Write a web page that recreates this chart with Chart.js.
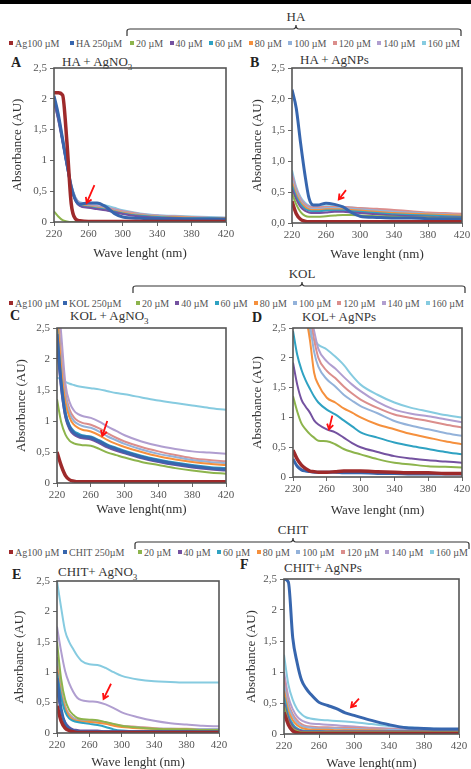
<!DOCTYPE html>
<html>
<head>
<meta charset="utf-8">
<script src="https://cdn.jsdelivr.net/npm/chart.js@4.4.1/dist/chart.umd.min.js"></script>
<style>
  body { margin: 0; width: 471px; height: 769px; background: #fff; position: relative; overflow: hidden;
         font-family: 'Liberation Serif', 'DejaVu Serif', serif; color: #222; }
  #topbar { position: absolute; left: 0; top: 0; width: 471px; height: 4px; background: #000; }
  canvas { position: absolute; }
  .lbl { position: absolute; font-size: 13px; line-height: 14px; white-space: nowrap; color: #333; }
  .letter { position: absolute; font-size: 14px; font-weight: bold; line-height: 14px; }
  .leg { position: absolute; font-size: 10px; line-height: 12px; white-space: nowrap; color: #555; }
  .legflex { position: absolute; display: flex; justify-content: space-between; font-size: 10px; line-height: 12px; color: #555; }
  .mk { display: inline-block; width: 4px; height: 4px; margin-right: 2px; vertical-align: 2px; }
  sub { font-size: 9px; line-height: 0; }
</style>
</head>
<body>
<div id="topbar"></div>
<svg id="braces" width="471" height="769" style="position:absolute;left:0;top:0"></svg>

<div class="letter" style="left:11px;top:56px">A</div>
<div class="lbl" style="left:62px;top:55px">HA + AgNO<sub>3</sub></div>
<div class="letter" style="left:250px;top:56px">B</div>
<div class="lbl" style="left:300px;top:53px">HA + AgNPs</div>
<div class="letter" style="left:10px;top:309px">C</div>
<div class="lbl" style="left:70px;top:309px">KOL + AgNO<sub>3</sub></div>
<div class="letter" style="left:252px;top:311px">D</div>
<div class="lbl" style="left:302px;top:310px">KOL+ AgNPs</div>
<div class="letter" style="left:12px;top:568px">E</div>
<div class="lbl" style="left:58px;top:565px">CHIT+ AgNO<sub>3</sub></div>
<div class="letter" style="left:240px;top:558px">F</div>
<div class="lbl" style="left:284px;top:561px">CHIT+ AgNPs</div>

<canvas id="chartA"></canvas>
<canvas id="chartB"></canvas>
<canvas id="chartC"></canvas>
<canvas id="chartD"></canvas>
<canvas id="chartE"></canvas>
<canvas id="chartF"></canvas>

<script>
// wavelength axis shared by every spectrum (nm)
const WAVELENGTHS = [220, 225, 230, 235, 240, 245, 250, 260, 270, 280, 290, 300, 320, 340, 360, 380, 400, 420];
const CONCENTRATIONS = ['20 µM', '40 µM', '60 µM', '80 µM', '100 µM', '120 µM', '140 µM', '160 µM'];
const Y_TICKS = [0, 0.5, 1, 1.5, 2, 2.5];
const X_TICKS = [220, 260, 300, 340, 380, 420];

// rows: Ag100, compound 250µM, 20, 40, 60, 80, 100, 120, 140, 160 µM
const HA_AGNO3 = [
  [2.1, 2.1, 2.06, 1.3, 0.3, 0.05, 0.02, 0.01, 0.01, 0.01, 0.01, 0.01, 0.01, 0.01, 0.01, 0.01, 0.01, 0.01],
  [2.05, 1.75, 1.35, 0.95, 0.58, 0.36, 0.29, 0.31, 0.31, 0.25, 0.14, 0.08, 0.06, 0.05, 0.05, 0.05, 0.05, 0.05],
  [0.17, 0.09, 0.03, 0.01, 0, 0, 0, 0, 0, 0, 0, 0, 0, 0, 0, 0, 0, 0],
  [1.95, 1.65, 1.28, 0.9, 0.55, 0.34, 0.26, 0.23, 0.21, 0.19, 0.16, 0.13, 0.09, 0.07, 0.06, 0.05, 0.05, 0.04],
  [1.96, 1.66, 1.3, 0.91, 0.56, 0.35, 0.27, 0.24, 0.22, 0.2, 0.17, 0.14, 0.1, 0.08, 0.07, 0.06, 0.06, 0.05],
  [1.98, 1.68, 1.32, 0.93, 0.57, 0.36, 0.28, 0.25, 0.23, 0.21, 0.18, 0.15, 0.11, 0.09, 0.08, 0.07, 0.06, 0.06],
  [2.0, 1.7, 1.33, 0.94, 0.58, 0.37, 0.29, 0.26, 0.24, 0.22, 0.19, 0.16, 0.12, 0.1, 0.08, 0.07, 0.07, 0.06],
  [2.0, 1.71, 1.34, 0.95, 0.59, 0.38, 0.3, 0.27, 0.25, 0.23, 0.2, 0.17, 0.13, 0.1, 0.09, 0.08, 0.07, 0.06],
  [2.02, 1.72, 1.35, 0.96, 0.6, 0.39, 0.31, 0.28, 0.26, 0.24, 0.21, 0.18, 0.13, 0.11, 0.09, 0.08, 0.07, 0.07],
  [2.04, 1.74, 1.37, 0.97, 0.61, 0.4, 0.32, 0.3, 0.29, 0.27, 0.23, 0.19, 0.14, 0.11, 0.1, 0.09, 0.08, 0.07]
];

const HA_AGNPS = [
  [0.35, 0.15, 0.06, 0.03, 0.02, 0.02, 0.02, 0.02, 0.02, 0.02, 0.02, 0.02, 0.02, 0.02, 0.02, 0.02, 0.02, 0.02],
  [2.15, 1.85, 1.3, 0.8, 0.4, 0.29, 0.29, 0.32, 0.3, 0.26, 0.17, 0.11, 0.09, 0.08, 0.08, 0.07, 0.07, 0.07],
  [0.48, 0.3, 0.18, 0.12, 0.1, 0.1, 0.1, 0.11, 0.12, 0.13, 0.13, 0.12, 0.11, 0.1, 0.09, 0.09, 0.08, 0.08],
  [0.55, 0.38, 0.26, 0.2, 0.17, 0.16, 0.16, 0.17, 0.18, 0.18, 0.17, 0.16, 0.14, 0.12, 0.11, 0.1, 0.09, 0.09],
  [0.6, 0.42, 0.3, 0.23, 0.2, 0.19, 0.19, 0.2, 0.2, 0.2, 0.19, 0.18, 0.16, 0.14, 0.13, 0.12, 0.11, 0.1],
  [0.65, 0.46, 0.33, 0.26, 0.22, 0.21, 0.21, 0.22, 0.22, 0.22, 0.21, 0.2, 0.18, 0.16, 0.15, 0.14, 0.13, 0.12],
  [0.7, 0.5, 0.36, 0.28, 0.24, 0.23, 0.23, 0.24, 0.24, 0.24, 0.23, 0.22, 0.2, 0.18, 0.17, 0.15, 0.14, 0.13],
  [0.75, 0.53, 0.38, 0.3, 0.26, 0.25, 0.25, 0.26, 0.26, 0.26, 0.25, 0.24, 0.23, 0.21, 0.19, 0.17, 0.16, 0.15],
  [0.8, 0.55, 0.4, 0.31, 0.27, 0.26, 0.26, 0.26, 0.26, 0.25, 0.24, 0.23, 0.21, 0.19, 0.17, 0.16, 0.15, 0.14],
  [0.85, 0.58, 0.42, 0.33, 0.28, 0.27, 0.27, 0.27, 0.27, 0.26, 0.25, 0.24, 0.21, 0.18, 0.16, 0.15, 0.14, 0.13]
];

const KOL_AGNO3 = [
  [0.5, 0.28, 0.12, 0.05, 0.03, 0.02, 0.02, 0.02, 0.02, 0.02, 0.02, 0.02, 0.02, 0.02, 0.02, 0.02, 0.02, 0.02],
  [2.4, 1.6, 1.1, 0.9, 0.81, 0.77, 0.75, 0.73, 0.67, 0.6, 0.55, 0.5, 0.42, 0.36, 0.31, 0.27, 0.24, 0.22],
  [1.35, 0.98, 0.78, 0.68, 0.64, 0.62, 0.61, 0.6, 0.55, 0.49, 0.45, 0.41, 0.34, 0.29, 0.24, 0.2, 0.17, 0.15],
  [2.2, 1.5, 1.05, 0.86, 0.78, 0.74, 0.72, 0.7, 0.64, 0.57, 0.52, 0.48, 0.4, 0.34, 0.29, 0.25, 0.22, 0.2],
  [2.5, 1.65, 1.15, 0.93, 0.84, 0.8, 0.77, 0.75, 0.69, 0.62, 0.57, 0.52, 0.44, 0.38, 0.33, 0.29, 0.26, 0.24],
  [2.8, 1.85, 1.3, 1.05, 0.94, 0.89, 0.86, 0.83, 0.77, 0.69, 0.63, 0.58, 0.5, 0.43, 0.38, 0.34, 0.31, 0.29],
  [2.9, 1.95, 1.38, 1.12, 1.0, 0.95, 0.92, 0.89, 0.83, 0.75, 0.69, 0.63, 0.54, 0.47, 0.42, 0.37, 0.34, 0.32],
  [3.0, 2.05, 1.45, 1.18, 1.06, 1.0, 0.97, 0.94, 0.88, 0.8, 0.73, 0.67, 0.58, 0.51, 0.45, 0.4, 0.37, 0.35],
  [3.2, 2.4, 1.6, 1.3, 1.17, 1.11, 1.08, 1.05, 0.99, 0.91, 0.84, 0.77, 0.67, 0.6, 0.55, 0.51, 0.49, 0.47],
  [1.7, 1.67, 1.63, 1.6, 1.58, 1.56, 1.55, 1.53, 1.51, 1.48, 1.45, 1.43, 1.38, 1.33, 1.29, 1.25, 1.21, 1.18]
];

const KOL_AGNPS = [
  [0.45, 0.3, 0.2, 0.14, 0.1, 0.09, 0.08, 0.08, 0.09, 0.1, 0.1, 0.1, 0.09, 0.08, 0.07, 0.07, 0.06, 0.06],
  [0.3, 0.18, 0.12, 0.1, 0.09, 0.08, 0.08, 0.08, 0.08, 0.07, 0.07, 0.07, 0.06, 0.06, 0.05, 0.05, 0.05, 0.05],
  [1.36, 1.1, 0.9, 0.8, 0.72, 0.66, 0.61, 0.6, 0.55, 0.47, 0.42, 0.38, 0.3, 0.24, 0.21, 0.18, 0.17, 0.16],
  [1.92, 1.55, 1.3, 1.18, 1.08, 0.95, 0.88, 0.8, 0.75, 0.66, 0.57, 0.5, 0.42, 0.35, 0.31, 0.28, 0.26, 0.24],
  [2.45, 2.05, 1.8, 1.62, 1.48, 1.35, 1.25, 1.13, 1.05, 0.95, 0.85, 0.75, 0.66, 0.58, 0.52, 0.47, 0.42, 0.38],
  [3.5, 3.2, 2.9, 2.7, 2.3, 1.75, 1.55, 1.33, 1.25, 1.15, 1.08, 1.0, 0.88, 0.8, 0.72, 0.66, 0.6, 0.55],
  [3.5, 3.3, 3.0, 2.8, 2.55, 2.1, 1.85, 1.64, 1.52, 1.38, 1.28, 1.19, 1.07, 0.94, 0.86, 0.8, 0.74, 0.69],
  [3.6, 3.4, 3.1, 2.9, 2.7, 2.3, 2.0, 1.78, 1.66, 1.52, 1.4, 1.3, 1.16, 1.05, 0.99, 0.94, 0.88, 0.83],
  [3.7, 3.5, 3.2, 3.0, 2.8, 2.45, 2.15, 1.94, 1.82, 1.68, 1.55, 1.44, 1.26, 1.13, 1.06, 1.02, 0.97, 0.92],
  [3.8, 3.6, 3.3, 2.9, 2.4, 2.3, 2.22, 2.14, 2.02, 1.88, 1.7, 1.55, 1.38, 1.25, 1.16, 1.1, 1.04, 1.0]
];

const CHIT_AGNO3 = [
  [0.45, 0.2, 0.08, 0.04, 0.02, 0.01, 0.01, 0.01, 0.01, 0.01, 0.01, 0.01, 0.01, 0.01, 0.01, 0.01, 0.01, 0.01],
  [0.9, 0.4, 0.15, 0.07, 0.04, 0.03, 0.02, 0.02, 0.02, 0.02, 0.02, 0.02, 0.02, 0.02, 0.02, 0.02, 0.02, 0.02],
  [1.5, 0.9, 0.55, 0.38, 0.3, 0.25, 0.23, 0.22, 0.21, 0.18, 0.15, 0.12, 0.09, 0.07, 0.06, 0.06, 0.05, 0.05],
  [0.7, 0.35, 0.18, 0.1, 0.06, 0.05, 0.04, 0.04, 0.04, 0.03, 0.03, 0.03, 0.03, 0.03, 0.03, 0.03, 0.03, 0.03],
  [1.0, 0.6, 0.35, 0.24, 0.2, 0.18, 0.17, 0.15, 0.13, 0.1, 0.06, 0.04, 0.03, 0.03, 0.03, 0.03, 0.03, 0.03],
  [1.1, 0.65, 0.4, 0.28, 0.22, 0.2, 0.19, 0.18, 0.17, 0.15, 0.12, 0.1, 0.08, 0.07, 0.06, 0.06, 0.05, 0.05],
  [1.2, 0.7, 0.42, 0.3, 0.24, 0.21, 0.2, 0.19, 0.18, 0.16, 0.13, 0.11, 0.09, 0.07, 0.07, 0.06, 0.06, 0.06],
  [1.25, 0.72, 0.44, 0.31, 0.25, 0.22, 0.21, 0.2, 0.19, 0.17, 0.14, 0.12, 0.1, 0.08, 0.07, 0.07, 0.06, 0.06],
  [1.75, 1.35, 1.02, 0.82, 0.68, 0.58, 0.54, 0.52, 0.51, 0.47, 0.41, 0.34, 0.26, 0.2, 0.16, 0.14, 0.12, 0.11],
  [2.5, 2.07, 1.68, 1.5, 1.38, 1.27, 1.19, 1.13, 1.12, 1.07, 1.0, 0.94, 0.88, 0.85, 0.84, 0.83, 0.83, 0.83]
];

const CHIT_AGNPS = [
  [0.35, 0.15, 0.05, 0.02, 0.01, 0.01, 0.01, 0.01, 0.01, 0.01, 0.01, 0.01, 0.01, 0.01, 0.01, 0.01, 0.01, 0.01],
  [2.5, 2.45, 1.55, 1.15, 0.87, 0.74, 0.65, 0.51, 0.46, 0.41, 0.34, 0.3, 0.22, 0.15, 0.1, 0.09, 0.08, 0.08],
  [0.45, 0.2, 0.09, 0.05, 0.03, 0.03, 0.03, 0.03, 0.03, 0.03, 0.03, 0.03, 0.03, 0.03, 0.03, 0.03, 0.03, 0.03],
  [0.5, 0.25, 0.12, 0.07, 0.05, 0.04, 0.04, 0.04, 0.04, 0.04, 0.04, 0.04, 0.04, 0.04, 0.04, 0.04, 0.04, 0.04],
  [0.6, 0.3, 0.16, 0.09, 0.06, 0.05, 0.05, 0.05, 0.04, 0.04, 0.04, 0.04, 0.04, 0.04, 0.04, 0.04, 0.04, 0.04],
  [0.7, 0.38, 0.22, 0.14, 0.1, 0.08, 0.07, 0.07, 0.07, 0.06, 0.06, 0.06, 0.06, 0.05, 0.05, 0.05, 0.05, 0.05],
  [0.8, 0.45, 0.28, 0.18, 0.13, 0.11, 0.1, 0.09, 0.09, 0.09, 0.08, 0.08, 0.07, 0.07, 0.06, 0.06, 0.06, 0.05],
  [0.9, 0.5, 0.32, 0.22, 0.16, 0.13, 0.12, 0.11, 0.11, 0.1, 0.1, 0.1, 0.09, 0.08, 0.07, 0.07, 0.06, 0.06],
  [1.0, 0.6, 0.4, 0.28, 0.22, 0.19, 0.17, 0.16, 0.15, 0.14, 0.13, 0.12, 0.1, 0.09, 0.08, 0.07, 0.06, 0.06],
  [1.28, 0.8, 0.55, 0.4, 0.32, 0.27, 0.25, 0.23, 0.22, 0.21, 0.2, 0.19, 0.16, 0.13, 0.11, 0.09, 0.08, 0.07]
];

// red arrows: [tail wavelength, tail absorbance, tip wavelength, tip absorbance]
const ARROW_A = [267, 0.6, 258, 0.31];
const ARROW_B = [283.5, 0.53, 275, 0.38];
const ARROW_C = [279.5, 1.0, 273.6, 0.76];
const ARROW_D = [266.5, 1.03, 262.6, 0.8];
const ARROW_E = [286.7, 0.81, 277.5, 0.56];
const ARROW_F = [305.7, 0.57, 296.6, 0.43];

const COLORS = ['#9E2A2B', '#3766AE', '#8DB44C', '#7452A0', '#2FA2C2', '#F5903D',
                '#93B2DA', '#DB8E8C', '#B09ED0', '#86CBE0'];

const FONT = "'Liberation Serif', 'DejaVu Serif', serif";

const framePlugin = {
  id: 'frame',
  afterDatasetsDraw(chart) {
    const a = chart.chartArea, ctx = chart.ctx;
    ctx.save();
    ctx.strokeStyle = '#555';
    ctx.lineWidth = 1.6;
    ctx.strokeRect(a.left, a.top, a.right - a.left, a.bottom - a.top);
    const arr = chart.options.plugins.frame.arrow;
    if (arr) {
      const xs = chart.scales.x, ys = chart.scales.y;
      const x0 = xs.getPixelForValue(arr[0]), y0 = ys.getPixelForValue(arr[1]);
      const x1 = xs.getPixelForValue(arr[2]), y1 = ys.getPixelForValue(arr[3]);
      const ang = Math.atan2(y1 - y0, x1 - x0);
      ctx.strokeStyle = '#FF1010';
      ctx.lineWidth = 1.8;
      ctx.beginPath();
      ctx.moveTo(x0, y0);
      ctx.lineTo(x1, y1);
      ctx.moveTo(x1 - 6 * Math.cos(ang - 0.55), y1 - 6 * Math.sin(ang - 0.55));
      ctx.lineTo(x1, y1);
      ctx.lineTo(x1 - 6 * Math.cos(ang + 0.55), y1 - 6 * Math.sin(ang + 0.55));
      ctx.stroke();
    }
    ctx.restore();
  }
};

function commaLabel(v, fixed) {
  const s = fixed ? v.toFixed(1) : String(v);
  return s.replace('.', ',');
}

// g: plot box (L,T,R,B), y title centre x, x title centre y
function makePanel(id, rows, g, arrow, xTitle, fixed) {
  const cl = g.yt - 8, ct = g.T - 10, cr = g.R + 14, cb = g.xt + 8;
  const cv = document.getElementById(id);
  cv.width = cr - cl; cv.height = cb - ct;
  cv.style.left = cl + 'px'; cv.style.top = ct + 'px';
  cv.style.width = (cr - cl) + 'px'; cv.style.height = (cb - ct) + 'px';

  const datasets = rows.map((vals, i) => ({
    label: i === 0 ? 'Ag100 µM' : i === 1 ? '250µM' : CONCENTRATIONS[i - 2],
    data: WAVELENGTHS.map((w, j) => ({ x: w, y: vals[j] })),
    borderColor: COLORS[i],
    borderWidth: i === 0 ? 3.5 : i === 1 ? 3 : 2,
    pointRadius: 0,
    cubicInterpolationMode: 'monotone',
    fill: false
  }));

  new Chart(cv, {
    type: 'line',
    data: { datasets },
    options: {
      responsive: false,
      animation: false,
      devicePixelRatio: 1,
      layout: { padding: { top: 10, right: 14, left: 0, bottom: 0 } },
      plugins: { legend: { display: false }, tooltip: { enabled: false }, frame: { arrow } },
      scales: {
        x: {
          type: 'linear', min: 220, max: 420,
          afterBuildTicks: s => { s.ticks = X_TICKS.map(v => ({ value: v })); },
          afterFit: s => { s.height = cb - g.B; },
          grid: { drawOnChartArea: false, drawTicks: true, tickLength: 4, color: '#666' },
          border: { display: false },
          ticks: { font: { family: FONT, size: 11 }, color: '#555', padding: 2, maxRotation: 0 },
          title: { display: true, text: xTitle, font: { family: FONT, size: 13 }, color: '#333', padding: 0 }
        },
        y: {
          min: 0, max: 2.5,
          afterBuildTicks: s => { s.ticks = Y_TICKS.map(v => ({ value: v })); },
          afterFit: s => { s.width = g.L - cl; },
          grid: { drawOnChartArea: false, drawTicks: true, tickLength: 4, color: '#666' },
          border: { display: false },
          ticks: { font: { family: FONT, size: 11 }, color: '#555', padding: 3,
                   callback: v => commaLabel(v, fixed) },
          title: { display: true, text: 'Absorbance (AU)', font: { family: FONT, size: 13 }, color: '#333', padding: 0 }
        }
      }
    },
    plugins: [framePlugin]
  });
}

makePanel('chartA', HA_AGNO3, { L: 54, T: 68, R: 226, B: 222, yt: 18, xt: 253 }, ARROW_A, 'Wave lenght (nm)', false);
makePanel('chartB', HA_AGNPS, { L: 292, T: 68, R: 462, B: 223, yt: 258, xt: 254 }, ARROW_B, 'Wave lenght (nm)', true);
makePanel('chartC', KOL_AGNO3, { L: 57, T: 328, R: 226, B: 483, yt: 22, xt: 509 }, ARROW_C, 'Wave lenght(nm)', false);
makePanel('chartD', KOL_AGNPS, { L: 293, T: 328, R: 462, B: 477, yt: 258, xt: 510 }, ARROW_D, 'Wave lenght (nm)', false);
makePanel('chartE', CHIT_AGNO3, { L: 57, T: 581, R: 219, B: 733, yt: 20, xt: 762 }, ARROW_E, 'Wave lenght (nm)', false);
makePanel('chartF', CHIT_AGNPS, { L: 284, T: 579, R: 459, B: 734, yt: 252, xt: 763 }, ARROW_F, 'Wave lenght(nm)', false);

// legend rows with the bracket over the concentration series
function legendRow(y, name, nameX, flexL, flexR, braceY, braceMid) {
  const add = (html, cls, left, extra) => {
    const d = document.createElement('div');
    d.className = cls; d.innerHTML = html;
    d.style.left = left + 'px'; d.style.top = (y - 6) + 'px';
    if (extra) d.style.width = extra + 'px';
    document.body.appendChild(d);
    return d;
  };
  const mk = c => '<span class="mk" style="background:' + c + '"></span>';
  add(mk(COLORS[0]) + 'Ag100 µM', 'leg', 9);
  add(mk(COLORS[1]) + name + ' 250µM', 'leg', nameX);
  add(CONCENTRATIONS.map((c, i) => '<span>' + mk(COLORS[i + 2]) + c + '</span>').join(''), 'legflex', flexL, flexR - flexL);

  const svg = document.getElementById('braces');
  const p = document.createElementNS('http://www.w3.org/2000/svg', 'path');
  const x1 = flexL - 3, x2 = flexR + 1, yb = braceY;
  p.setAttribute('d', `M${x1} ${yb + 7} L${x1} ${yb + 2} Q${x1} ${yb} ${x1 + 3} ${yb} L${braceMid - 3} ${yb} Q${braceMid} ${yb} ${braceMid} ${yb - 4} Q${braceMid} ${yb} ${braceMid + 3} ${yb} L${x2 - 3} ${yb} Q${x2} ${yb} ${x2} ${yb + 2} L${x2} ${yb + 7}`);
  p.setAttribute('fill', 'none'); p.setAttribute('stroke', '#333'); p.setAttribute('stroke-width', '1.2');
  svg.appendChild(p);
  const t = document.createElement('div');
  t.className = 'lbl'; t.textContent = name;
  t.style.left = braceMid + 'px'; t.style.top = (braceY - 19) + 'px';
  t.style.transform = 'translateX(-50%)';
  document.body.appendChild(t);
}

legendRow(44, 'HA', 70, 130, 460, 29, 296);
legendRow(304, 'KOL', 63, 136, 464, 286, 302);
legendRow(553, 'CHIT', 63, 138, 468, 542, 293);
</script>
</body>
</html>
